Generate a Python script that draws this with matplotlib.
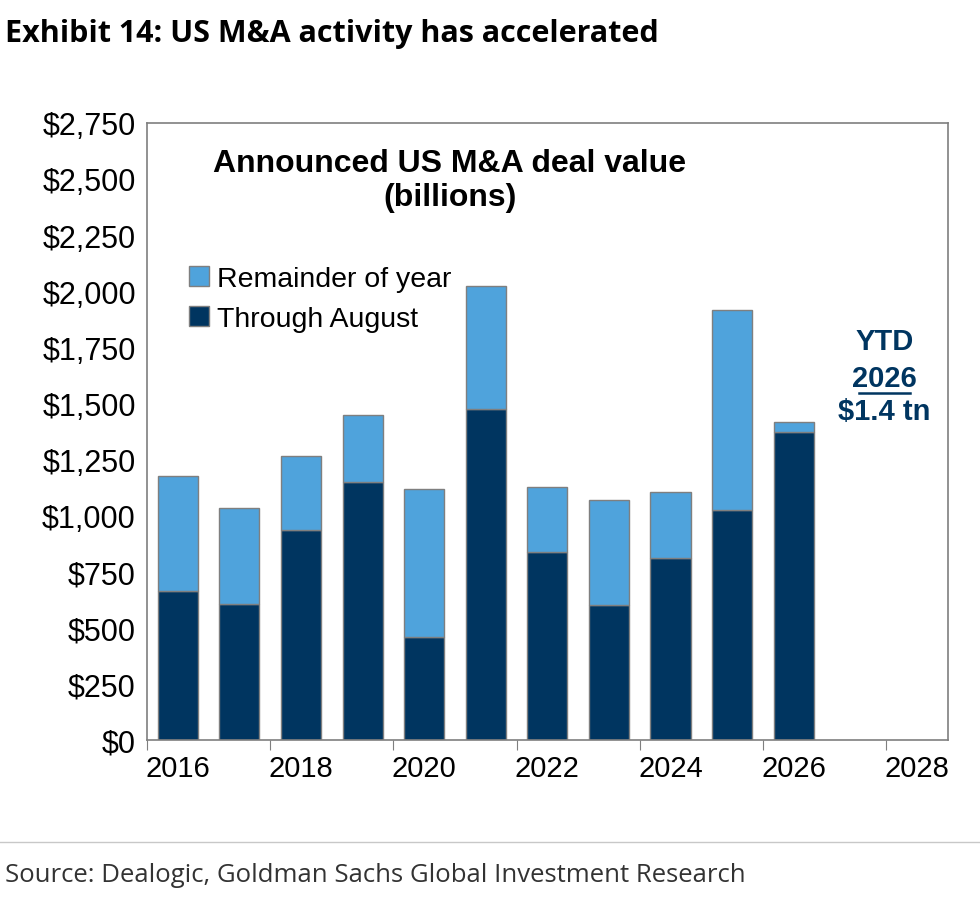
import numpy as np
import matplotlib
matplotlib.use("Agg")
import matplotlib.pyplot as plt
from matplotlib.patches import Patch

plt.rcParams['font.family'] = ['Liberation Sans', 'DejaVu Sans']

years = list(range(2016, 2029))
through_aug = [664, 606, 936, 1150, 459, 1475, 838, 602, 811, 1025, 1373, np.nan, np.nan]
full_year = [1176, 1034, 1266, 1448, 1119, 2023, 1127, 1070, 1105, 1916, 1417, np.nan, np.nan]
tick_labels = ["2016", "2018", "2020", "2022", "2024", "2026", "2028"]

dark = "#003560"
light = "#4FA3DC"

through_aug = np.array(through_aug, dtype=float)
remainder = np.array(full_year, dtype=float) - through_aug

fig = plt.figure(figsize=(9.8, 9.04), dpi=100)
ax = fig.add_axes([0.15, 0.18, 0.817, 0.683])

x = np.arange(len(years))
ax.bar(x, through_aug, width=0.65, color=dark, edgecolor="#7f7f7f", linewidth=1)
ax.bar(x, remainder, bottom=through_aug, width=0.65, color=light, edgecolor="#7f7f7f", linewidth=1)

ax.set_xlim(-0.5, len(years) - 0.5)
ax.set_ylim(0, 2750)
ax.set_yticks(np.arange(0, 2751, 250))
ax.set_yticklabels(["${:,}".format(v) for v in range(0, 2751, 250)], fontsize=22)
ax.tick_params(axis='y', length=0, pad=8)

ax.set_xticks(np.arange(-0.5, len(years), 2))
ax.set_xticklabels([])
ax.set_xticks(np.arange(0, len(years), 2), minor=True)
ax.set_xticklabels(tick_labels, minor=True, fontsize=21)
ax.tick_params(axis='x', which='major', length=7, direction='out', color="#7f7f7f")
ax.tick_params(axis='x', which='minor', length=0, pad=10)

for s in ax.spines.values():
    s.set_color("#7f7f7f")
    s.set_linewidth(1.2)

ax.text(0.378, 0.96, "Announced US M&A deal value\n(billions)", transform=ax.transAxes,
        ha="center", va="top", fontsize=23, fontweight="bold", linespacing=1.2)
handles = [Patch(facecolor=light, edgecolor="#7f7f7f"), Patch(facecolor=dark, edgecolor="#7f7f7f")]
ax.legend(handles, ["Remainder of year", "Through August"], loc="upper left",
          bbox_to_anchor=(0.02, 0.81), frameon=False, fontsize=20.5,
          handlelength=0.7, handleheight=0.7, handletextpad=0.3, labelspacing=0.5)

ax.text(0.921, 0.647, "YTD", transform=ax.transAxes, ha="center", va="center",
        fontsize=21, fontweight="bold", color=dark)
ax.text(0.921, 0.587, "2026", transform=ax.transAxes, ha="center", va="center",
        fontsize=21, fontweight="bold", color=dark)
ax.plot([0.889, 0.953], [0.562, 0.562], transform=ax.transAxes, color=dark, lw=1.8, clip_on=False)
ax.text(0.921, 0.533, "$1.4 tn", transform=ax.transAxes, ha="center", va="center",
        fontsize=21, fontweight="bold", color=dark)

fig.text(0.005, 0.962, "Exhibit 14: US M&A activity has accelerated", fontsize=22,
         fontweight="bold", family=["Open Sans", "DejaVu Sans"], va="center")
fig.add_artist(plt.Line2D([0, 1], [0.068, 0.068], transform=fig.transFigure, color="#c8c8c8", lw=1))
fig.text(0.005, 0.032, "Source: Dealogic, Goldman Sachs Global Investment Research", fontsize=18.5,
         family=["Open Sans", "DejaVu Sans"], color="#333333", va="center")

fig.savefig("out.png", dpi=100)
